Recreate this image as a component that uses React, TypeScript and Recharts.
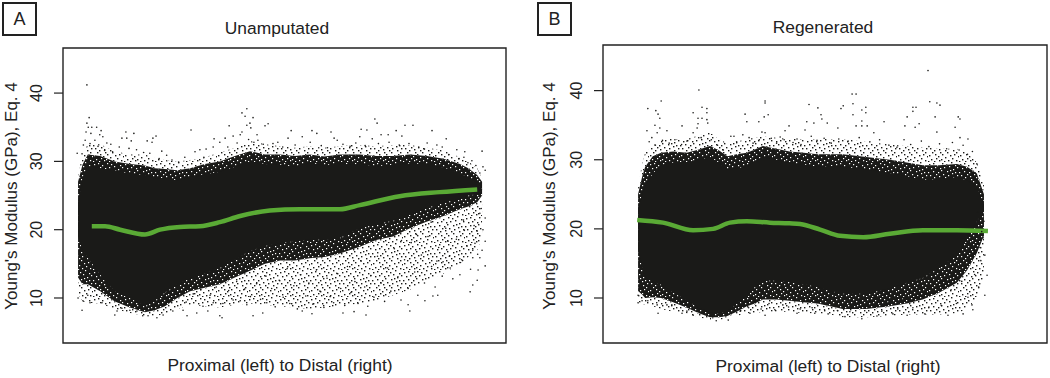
import React from 'react';
import { ComposedChart, Area, Line, Scatter, XAxis, YAxis, ReferenceArea } from 'recharts';

// position along the bone, percent of the plot width
const unampX = [3.4, 4.4, 5.6, 8.4, 11.7, 15.1, 18.5, 20.7, 23, 25.8, 28.7, 32, 35.4, 38.8, 42.2, 45.6, 49, 52.3, 55.7, 59, 62.5, 64.7, 67, 70.7, 74.5, 78.3, 82.2, 85.9, 89.6, 91.5, 93.5, 94.6];
const unampCoreHigh = [24, 27.5, 29.3, 29, 28.7, 28.2, 28, 27.5, 27.6, 27.2, 27.8, 28.1, 28.5, 29.2, 30, 29.6, 29.5, 29.2, 29.8, 29.4, 29.8, 29.5, 29.6, 29.3, 29.5, 29.7, 29.6, 29.1, 28.3, 27.6, 26.8, 26];
const unampCoreLow = [19, 17, 15.9, 13.4, 11, 10, 8.8, 9.6, 10.8, 12, 12.9, 13.6, 14.4, 15.6, 16.9, 17.6, 18, 18.3, 18.6, 18.5, 18.8, 19.5, 20.2, 20.8, 21.3, 22.2, 23.2, 23.9, 24.6, 25, 25.2, 25.8];
const unampMidHigh = [27, 29.5, 31, 30.8, 30, 29.6, 29.4, 29, 28.9, 28.7, 29, 29.6, 30, 30.8, 31.5, 31, 31, 30.8, 31, 30.7, 31, 31, 31, 30.8, 30.8, 31, 30.8, 30.4, 29.6, 29, 28, 27];
const unampMidLow = [13, 12, 12, 11, 9.5, 8.6, 7.9, 8.2, 8.8, 10, 11, 11.5, 12, 13, 14, 15, 15.5, 15.5, 15.8, 16, 16.5, 17, 17.5, 18.5, 19, 20.2, 21.2, 22, 23, 23.4, 24, 25];
const unampEdgeHigh = [28, 31, 32.5, 32.5, 31.5, 31, 31, 30.5, 30.2, 30, 30.2, 30.6, 31.3, 32, 33, 32.5, 32.2, 32, 32.2, 32, 32.2, 32.4, 32.4, 32.2, 32.4, 32.4, 32, 31.6, 30.6, 30, 29, 27.5];
const unampEdgeLow = [10.5, 9.5, 9.3, 9.2, 8.4, 7.8, 7.4, 7.4, 7.6, 8.4, 9, 8.8, 8.6, 9, 9.2, 9, 8.8, 8.6, 8.4, 8.6, 8.8, 9, 9.2, 9.6, 10.4, 11.2, 12.6, 13.6, 15, 16, 17, 19];

const unampTrendX = [6.5, 9.5, 12.9, 18.5, 21.9, 26.4, 30.9, 35.4, 40, 46.7, 53.5, 62.5, 67, 76, 85, 93.5];
const unampTrend = [20.5, 20.5, 20, 19.3, 20, 20.4, 20.5, 21.1, 22, 22.8, 23, 23, 23.6, 24.9, 25.5, 25.9];

const regenX = [7.9, 8.8, 9.5, 11.2, 13.1, 15.8, 18.9, 21.6, 24.1, 26, 28, 30.1, 32.4, 34.2, 36, 39, 42, 45.2, 48.3, 51.2, 54, 59.3, 64.6, 68.4, 72, 75.8, 79.7, 82, 84.2, 85.8];
const regenCoreHigh = [23, 25, 26.1, 28, 29.2, 29.6, 29.6, 30, 30.4, 29.6, 28.5, 28.8, 29, 29.8, 30.4, 30, 29.5, 29.3, 29, 29.1, 29, 28.6, 28.1, 27.6, 27.1, 27.2, 27.5, 27, 26, 23.5];
const regenCoreLow = [17, 14.5, 13, 12.3, 11.9, 10.8, 9.6, 8.6, 7.9, 7.8, 8.1, 9.2, 10.4, 11.6, 12.5, 12.5, 12.3, 12, 11.6, 11, 10.6, 10.6, 11.4, 12.2, 12.9, 14.4, 16.2, 18.5, 21.1, 22.5];
const regenMidHigh = [25, 27.5, 29, 30.5, 31, 31.2, 31, 31.5, 32, 31.4, 30.5, 30.8, 31, 31.5, 32, 31.6, 31.2, 31, 30.8, 30.8, 30.8, 30.4, 30, 29.6, 29.2, 29.2, 29.4, 29, 28, 25];
const regenMidLow = [11, 10.5, 10, 10.1, 10, 9.4, 8.6, 7.8, 7.2, 7.2, 7.4, 8, 8.8, 9.2, 9.8, 9.8, 9.6, 9.4, 9.2, 8.8, 8.4, 8.4, 8.8, 9.2, 9.8, 10.8, 12.2, 14, 16.5, 19];
const regenEdgeHigh = [26, 29.5, 31, 32, 33, 33, 33, 33.5, 34, 33, 32.4, 32.6, 33, 33.2, 33.4, 33.2, 33, 33, 33, 33, 33, 32.6, 32.2, 32, 31.8, 31.6, 31.6, 31, 29.6, 27];
const regenEdgeLow = [9.4, 9.2, 9, 8.8, 8.4, 8, 7.8, 7.2, 6.8, 6.8, 7, 7.4, 7.8, 7.8, 8, 8, 8, 7.8, 7.8, 7.6, 7.2, 7.2, 7.4, 7.6, 7.6, 7.6, 7.8, 8.4, 10, 13];

const regenTrendX = [7.7, 13.5, 20.3, 24.8, 28.6, 32.4, 37.6, 42, 44.4, 48.9, 53.4, 58.6, 64.6, 72, 79.7, 86.7];
const regenTrend = [21.3, 20.9, 19.8, 20, 20.9, 21.1, 20.9, 20.8, 20.7, 19.9, 19, 18.8, 19.3, 19.8, 19.8, 19.7];

const yTicks = [10, 20, 30, 40];

const unampDotsTop = [
  [5.4, 41.2], [5.9, 36.4], [5.4, 35.6], [5.7, 35], [6.5, 35], [7.6, 35], [8.6, 34.5], [5.2, 34.3], [6.3, 34.1], [8.3, 33.9],
  [9, 33.6], [5, 33.1], [7.2, 33.1], [9.9, 32.7], [10.8, 32.5], [3.2, 31.2], [4.3, 31.1], [14.2, 34.3], [13.3, 33.4], [14.4, 33.4],
  [16, 34.1], [15.4, 33], [19, 33], [20.1, 32.8], [21, 33.7], [20.3, 33.4], [19.6, 31.2], [22.3, 31.5], [23.4, 30.9], [28.9, 34.6],
  [27.5, 30.6], [29.8, 31.4], [30.9, 31.7], [32.3, 31.8], [33.9, 32.1], [34.1, 33.3], [35.4, 32.8], [36.6, 33.4], [37.5, 35.2], [38.4, 33.7],
  [40.4, 37.1], [41.1, 36.6], [41.5, 37.7], [42.9, 36.4], [40.4, 34.3], [41.5, 35.3], [42.2, 35.6], [42.4, 34.9], [40, 33.9], [43.8, 33.9],
  [44, 33.1], [45.6, 35.2], [46.3, 35.5], [51.5, 34.5], [50.8, 33.4], [48.5, 32.8], [54, 33.6], [56.2, 34.5], [57.3, 34.1], [60.5, 34.3],
  [61.2, 33.4], [61.9, 33.1], [55.8, 32.8], [63.2, 32.5], [70.4, 36.2], [70.9, 35.6], [67.3, 34.7], [68.6, 34.6], [67, 33.6], [69.8, 33.3],
  [71.8, 33.9], [73.4, 33.9], [75.2, 34.5], [77.2, 35.3], [79, 35.3], [76.5, 33.7], [83.3, 34.5], [86.5, 33.3], [82.2, 32.7], [84.4, 32.4],
  [85.6, 32.1], [88.9, 31.7], [90.7, 31.4], [94.6, 31.5], [90.5, 30.6], [91.4, 29.8], [94.8, 29.2], [95.3, 28.7], [94.1, 28.3],
  [4.6, 32.4], [6.1, 32.6], [7.9, 32.2], [9.4, 31.6], [11.2, 31.4], [12.7, 32.1], [14.9, 31.9], [16.6, 31.7], [18.2, 31.3], [21.7, 30.4],
  [24.6, 30.2], [26.1, 29.9], [31.8, 30.6], [37.2, 32.1], [39.3, 32.7], [41.9, 33.2], [43.1, 32.8], [45.2, 32.5], [47.4, 32.6], [49.6, 32.1],
  [52.4, 32.4], [58.3, 32.3], [59.7, 32], [64.8, 32.2], [66.1, 32.7], [68.2, 32.3], [71.2, 32.6], [73.6, 32.8], [75.9, 32.4], [78.1, 32.6],
  [80.3, 32.1], [81.6, 31.8], [87.1, 31], [89.4, 30.4], [92.3, 30.1], [93.2, 29.4],
];
const unampDotsLow = [
  [4.3, 8.2], [3.4, 10], [4.5, 9.6], [6.1, 9.3], [5.6, 10.4], [7.6, 10.4], [8.8, 9.3], [11, 10.3], [11.7, 7.5], [12.2, 8.1],
  [13.3, 8.5], [15.1, 8.2], [16.7, 8.1], [18, 7.4], [19.2, 7.4], [21.2, 7.1], [22.6, 7.5], [24.8, 8.1], [27.1, 8.2], [28, 7.4],
  [30.2, 7.8], [31.6, 8.8], [32.7, 8.1], [35.4, 7.4], [35.9, 7.1], [33.9, 9.3], [38.4, 9.7], [40, 9.6], [41.5, 9], [42.9, 7.4],
  [45.1, 7.8], [46, 9.3], [56.2, 7.7], [54, 8.1], [63.2, 7.8], [68.4, 7.5], [65.7, 8], [78.3, 8.1], [77.9, 9], [81.7, 9.6],
  [83.5, 10.3], [84.6, 10.4], [91.9, 10.9], [92.5, 11.9], [93.5, 12.6], [89.6, 13.4], [95.3, 14.7], [93.7, 14.1], [87.4, 14.4], [84.4, 15.4],
  [85.8, 15.3], [90, 15.6], [92.5, 15.9], [94.1, 15.9], [92.5, 17], [94.6, 17], [93, 18], [95.3, 18.3], [94.8, 20], [93.5, 19.8],
  [95.3, 21.7], [94.1, 22.4],
  [25.3, 10.1], [27.8, 9.4], [29.4, 10.6], [31.1, 11.2], [33.2, 10.4], [34.6, 11.6], [36.1, 9.2], [37.4, 11.1], [39.2, 12.4], [41, 11.3],
  [42.3, 10.2], [43.7, 12.1], [44.6, 9.8], [45.8, 13.2], [47.1, 11.4], [47.9, 8.7], [48.8, 12.6], [49.7, 10.1], [50.6, 14.3], [51.2, 9.2],
  [52.1, 11.8], [52.9, 8.4], [53.6, 13.4], [54.8, 10.3], [55.5, 12.2], [56.4, 9.1], [57.2, 14.1], [58, 11], [58.9, 8.6], [59.6, 12.9],
  [60.3, 10.2], [61.1, 9.3], [61.8, 13.6], [62.7, 11.4], [63.6, 8.9], [64.2, 14.6], [65, 10.8], [65.9, 12.4], [66.6, 9.2], [67.3, 15.4],
  [68.1, 11.6], [68.8, 8.8], [69.5, 13.3], [70.2, 10.1], [71, 16.1], [71.8, 12.2], [72.6, 9.5], [73.3, 14.4], [74, 11], [74.8, 17.2],
  [75.6, 13.1], [76.3, 9.7], [77.1, 15.6], [77.9, 11.4], [78.6, 18.1], [79.4, 13.8], [80.1, 10.4], [80.9, 16.3], [81.6, 12.2], [82.4, 19],
  [83.2, 14.6], [84, 11.6], [84.8, 17.4], [85.6, 13.2], [86.4, 20.2], [87.2, 16.1], [88, 12.8], [88.8, 18.6], [89.6, 15.2], [90.4, 21.4],
  [91.2, 17.6], [92, 14.2], [92.8, 20.6], [93.6, 16.4], [94.4, 23.1], [90.6, 19.9], [86.9, 18.3], [83.1, 21.1], [79.8, 19.3], [76.4, 18.4],
];

const regenDotsTop = [
  [21.6, 40.1], [13.1, 38.5], [10.1, 37.4], [11.9, 37.1], [12.4, 36.6], [12.8, 36], [22.3, 37.6], [23.4, 37.4], [20.3, 36.8], [23.4, 36.8],
  [21.4, 36], [22.3, 36], [23.4, 35.8], [23.6, 35.3], [21.4, 35.2], [21.2, 34.6], [11.7, 35], [12.8, 34.6], [14.4, 34.2], [9.9, 34.2],
  [12.2, 33.9], [11, 33.2], [17.8, 34.9], [20.3, 33.9], [36.5, 38.5], [36.5, 38.2], [37.2, 36.5], [36.3, 36.2], [32, 36.6], [32.4, 35.5],
  [35.1, 35.5], [35.8, 34], [36.5, 33.9], [41, 34.2], [41.9, 34.9], [28.8, 33.4], [29.5, 33.4], [31.5, 33.6], [32.9, 33.2], [39.9, 33.3],
  [73.2, 42.9], [56.1, 39.5], [57, 39.5], [46.4, 38], [48.4, 37.5], [54.1, 37.8], [53.6, 37.4], [56.3, 38.1], [59.2, 37.6], [58.3, 37.2],
  [59.2, 36.8], [56.3, 36.5], [58.3, 35.6], [49.1, 36.5], [49.3, 35.9], [45.9, 35.5], [47.5, 35.3], [50.5, 35.3], [73.6, 38.4], [75.2, 38.2],
  [75.9, 37.9], [69.8, 37.6], [70.5, 37.6], [69.8, 37], [68.5, 36.2], [74.8, 36.2], [80, 36.2], [80.4, 35.9], [63.3, 35.5], [71.2, 35.2],
  [68, 34.9], [79.3, 34.7], [70.3, 34.7], [75.2, 34], [61, 33.9], [57, 34.9], [58.3, 34.9], [52.9, 34.6], [59.5, 34.9], [45.5, 34.3],
  [43.7, 33], [80.4, 33.2], [82.2, 33], [81.1, 32.1], [84.2, 29.4], [83.8, 28.1], [84.5, 26.1],
  [10.4, 32.6], [11.8, 32.1], [13.4, 32.8], [14.9, 32.4], [16.2, 32.9], [17.7, 32.2], [18.9, 32.7], [22.1, 33.2], [24.4, 32.9], [25.8, 32.1],
  [27.1, 31.4], [30.1, 32.6], [33.8, 32.4], [35.2, 32.9], [37.9, 33.1], [39.1, 32.4], [40.8, 32.9], [42.8, 32.5], [44.6, 32.2], [46.9, 33.4],
  [48.2, 32.8], [49.8, 33.1], [51.4, 32.4], [53.1, 33], [55.2, 32.7], [57.7, 33.2], [60.1, 32.6], [62.3, 32.9], [64.4, 32.1], [66.2, 31.8],
  [67.8, 32.9], [69.3, 32.2], [71.7, 32.7], [73.4, 31.9], [75.8, 32.3], [77.4, 31.6], [78.7, 32.5], [80.2, 31.4], [82.1, 30.8], [83.2, 31.2],
];
const regenDotsLow = [
  [7.9, 10.4], [7.9, 9.3], [8.8, 9.6], [10.1, 9.6], [12.4, 7.8], [12.2, 9], [14.4, 9], [15.5, 9], [17.8, 7.8], [18.9, 8.1],
  [20.3, 7.5], [24.1, 7.4], [25.5, 6.7], [28.2, 6.8], [26.8, 7.4], [30.9, 8.1], [33.1, 7.8], [36.5, 7.5], [38.7, 8.3], [40.5, 9],
  [43.7, 7.8], [47.7, 7.8], [50.7, 7.7], [54.5, 7.3], [58.3, 7], [61.7, 7.4], [65.3, 7.7], [68.5, 7.5], [72.5, 7.7], [77.7, 7.5],
  [81.1, 7.7], [83.3, 8.3], [83.1, 9], [86, 10.4], [86.5, 13.3], [86, 16.2], [85.6, 18.7], [85.8, 21.1], [85.6, 24],
  [29.6, 8.9], [31.4, 9.4], [32.8, 8.6], [34.2, 9.7], [35.6, 8.4], [37.4, 9.2], [39.1, 10.1], [41.8, 8.7], [42.9, 9.8], [44.4, 8.4],
  [45.9, 9.6], [47.1, 8.6], [48.6, 10.2], [49.9, 8.3], [51.3, 9.4], [52.8, 8.2], [53.9, 9.9], [55.6, 8], [56.8, 9.2], [59.4, 7.9],
  [60.6, 9], [62.8, 8.1], [64.1, 9.6], [66.4, 8.4], [67.6, 9.9], [69.8, 8.6], [70.9, 10.2], [73.4, 8.7], [74.7, 10.6], [76.2, 8.9],
  [78.4, 11.2], [79.6, 9.2], [80.8, 12.4], [82.2, 10.1], [83.7, 13.4], [84.6, 11.6], [85.1, 15.4], [84.9, 17.3], [85.3, 19.6], [84.4, 22.4],
];

const toRows = (pairs: number[][]) => pairs.map(([x, v]) => ({ x, v }));
const toBands = (xs: number[], low: number[][], high: number[][]) =>
  xs.map((x, i) => ({ x, core: [low[0][i], high[0][i]], mid: [low[1][i], high[1][i]], edge: [low[2][i], high[2][i]] }));

const FONT = '"Liberation Sans", Arial, sans-serif';
const INK = '#1a1a18';

// texture tile for the parts of the clouds too dense to read dot by dot
const SPECKS = [
  [1, 2], [5, 1], [9, 3], [14, 1], [18, 2], [23, 0], [27, 3], [3, 6], [7, 5], [12, 6], [16, 5], [21, 4], [25, 7], [29, 5],
  [0, 10], [5, 9], [10, 10], [13, 8], [19, 9], [22, 8], [27, 10], [2, 13], [8, 12], [11, 14], [15, 12], [20, 13], [24, 11], [29, 13],
  [4, 17], [6, 15], [12, 17], [17, 15], [19, 17], [25, 15], [28, 17], [1, 20], [7, 19], [10, 21], [14, 19], [22, 20], [26, 19], [30, 21],
  [3, 24], [8, 23], [13, 24], [17, 22], [20, 25], [24, 23], [28, 25], [0, 26], [6, 26], [11, 25], [16, 26],
];
const TILE_W = 31;
const TILE_H = 27;

const Dot = (props: any) => <circle cx={props.cx} cy={props.cy} r={0.8} fill={INK} />;

const Textures = ({ prefix }: any) => (
  <defs>
    <pattern id={`${prefix}Edge`} width={TILE_W} height={TILE_H} patternUnits="userSpaceOnUse">
      {SPECKS.map(([x, y], i) => <rect key={i} x={x} y={y} width={1.4} height={1.4} fill={INK} />)}
    </pattern>
    <pattern id={`${prefix}Mid`} width={TILE_W} height={TILE_H} patternUnits="userSpaceOnUse">
      <rect width={TILE_W} height={TILE_H} fill={INK} />
      {SPECKS.map(([x, y], i) => <rect key={i} x={x} y={y} width={1.2} height={1.2} fill="#fff" />)}
    </pattern>
  </defs>
);

const Panel = ({ id, left, top, plotLeft, rightGap, domain, title, titleX, titleY, labelX, labelY, yLabelX, tickX, letter, bands, trend, dots }: any) => {
  const yLabelY = 196;
  return (
    <div style={{ position: 'absolute', left, top: 0 }}>
      <ComposedChart width={525} height={378} data={bands} margin={{ top, right: rightGap, bottom: 0, left: 0 }}>
        <Textures prefix={id} />
        <XAxis type="number" dataKey="x" domain={[0, 100]} height={35} tick={false} axisLine={false} tickLine={false} />
        <YAxis
          type="number"
          dataKey="v"
          domain={domain}
          ticks={yTicks}
          width={plotLeft}
          allowDataOverflow
          axisLine={false}
          tickSize={9}
          tickLine={{ stroke: '#222', strokeWidth: 1.2 }}
          tick={({ y, payload }: any) => (
            <text
              transform={`translate(${tickX},${y}) rotate(-90)`}
              textAnchor="middle"
              fontFamily={FONT}
              fontSize={16}
              fill="#222"
            >
              {payload.value}
            </text>
          )}
        />
        <Area dataKey="edge" stroke="none" fill={`url(#${id}Edge)`} fillOpacity={1} isAnimationActive={false} dot={false} activeDot={false} />
        <Area dataKey="mid" stroke="none" fill={`url(#${id}Mid)`} fillOpacity={1} isAnimationActive={false} dot={false} activeDot={false} />
        <Area dataKey="core" stroke="none" fill={INK} fillOpacity={1} isAnimationActive={false} dot={false} activeDot={false} />
        <Scatter data={dots} shape={Dot} isAnimationActive={false} />
        <Line data={trend} dataKey="v" type="monotone" stroke="#5aaa35" strokeWidth={4.5} dot={false} activeDot={false} isAnimationActive={false} />
        <ReferenceArea x1={0} x2={100} y1={domain[0]} y2={domain[1]} fill="none" stroke="#222" strokeWidth={1.4} />
        <text x={titleX} y={titleY} textAnchor="middle" fontFamily={FONT} fontSize={17.4} fill="#222">{title}</text>
        <text x={labelX} y={labelY} textAnchor="middle" fontFamily={FONT} fontSize={17.4} fill="#222">Proximal (left) to Distal (right)</text>
        <text transform={`translate(${yLabelX},${yLabelY}) rotate(-90)`} textAnchor="middle" fontFamily={FONT} fontSize={17} fill="#222">Young's Modulus (GPa), Eq. 4</text>
      </ComposedChart>
      <div style={{
        position: 'absolute', left: letter.x, top: 2, width: 31, height: 30, border: '2px solid #222',
        fontFamily: FONT, fontSize: 18, lineHeight: '30px', textAlign: 'center', color: '#222', background: '#fff',
      }}>
        {letter.text}
      </div>
    </div>
  );
};

export default function App() {
  return (
    <div style={{ position: 'absolute', left: 0, top: 0, width: 1050, height: 378, background: '#fff' }}>
      <Panel
        id="unamp" left={0} top={48} plotLeft={63} rightGap={19} domain={[3.41, 46.6]}
        title="Unamputated" titleX={277} titleY={34} labelX={280} labelY={371} yLabelX={17} tickX={42}
        letter={{ x: 2, text: 'A' }}
        bands={toBands(unampX, [unampCoreLow, unampMidLow, unampEdgeLow], [unampCoreHigh, unampMidHigh, unampEdgeHigh])}
        trend={unampTrendX.map((x, i) => ({ x, v: unampTrend[i] }))}
        dots={toRows([...unampDotsTop, ...unampDotsLow])}
      />
      <Panel
        id="regen" left={525} top={45} plotLeft={78} rightGap={3} domain={[3.49, 46.6]}
        title="Regenerated" titleX={298} titleY={33} labelX={303} labelY={372} yLabelX={30} tickX={57}
        letter={{ x: 12, text: 'B' }}
        bands={toBands(regenX, [regenCoreLow, regenMidLow, regenEdgeLow], [regenCoreHigh, regenMidHigh, regenEdgeHigh])}
        trend={regenTrendX.map((x, i) => ({ x, v: regenTrend[i] }))}
        dots={toRows([...regenDotsTop, ...regenDotsLow])}
      />
    </div>
  );
}
